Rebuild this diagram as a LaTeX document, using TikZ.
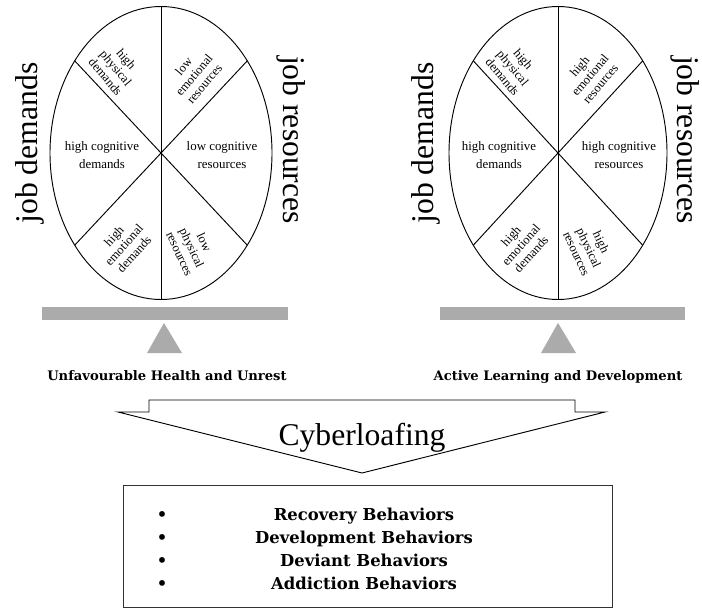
\documentclass[tikz,border=0pt]{standalone}
\usepackage{fontspec}
\setmainfont{Liberation Serif}
\newfontfamily\slabfont{DejaVu Serif}
\usepackage{tikz}

\begin{document}
\begin{tikzpicture}[x=0.03cm, y=-0.03cm,
  wedge/.style={align=center, inner sep=0pt, font=\fontsize{10.7}{11.6}\selectfont},
  sector/.style={align=center, inner sep=0pt, font=\fontsize{11}{15}\selectfont},
  side/.style={anchor=base, inner sep=0pt, font=\fontsize{27}{30}\selectfont},
  plank/.style={fill=black!33, draw=none},
  verdict/.style={anchor=base, inner sep=0pt, font=\slabfont\bfseries\fontsize{11.2}{12}\selectfont},
  outcome/.style={anchor=base, inner sep=0pt, font=\slabfont\bfseries\fontsize{14}{15}\selectfont},
  rim/.style={line width=0.8pt}]
  \useasboundingbox (0,0) rectangle (702,608);
  % left balance
  \draw[rim] (161,153) ellipse [x radius=111, y radius=146.5];
  \draw[rim] (161,6.5) -- (161,299.5);
  \draw[rim] (74.7,60.8) -- (247.3,245.2);
  \draw[rim] (74.7,245.2) -- (247.3,60.8);
  \node (lhpd) at (116,68) [wedge, rotate=-50] {high\\physical\\demands};
  \node (lloer) at (194,75) [wedge, rotate=50] {low\\emotional\\resources};
  \node (lhcd) at (102,155) [sector] {high cognitive\\demands};
  \node (llcr) at (222,155) [sector] {low cognitive\\resources};
  \node (lhed) at (124,245) [wedge, rotate=48] {high\\emotional\\demands};
  \node (llpr) at (192,248) [wedge, rotate=-65] {low\\physical\\resources};
  \node (ldem) at (37,143) [side, rotate=90] {job demands};
  \node (lres) at (283,140) [side, rotate=-90] {job resources};
  \fill[plank] (42,307) rectangle (288,320);
  \fill[plank] (164,323) -- (182,353) -- (147,353) -- cycle;
  \node (lout) at (167,380) [verdict] {Unfavourable Health and Unrest};
  % right balance
  \draw[rim] (558,153) ellipse [x radius=109, y radius=146.5];
  \draw[rim] (558,6.5) -- (558,299.5);
  \draw[rim] (473.3,60.8) -- (642.7,245.2);
  \draw[rim] (473.3,245.2) -- (642.7,60.8);
  \node (rhpd) at (513,68) [wedge, rotate=-50] {high\\physical\\demands};
  \node (rher) at (590,75) [wedge, rotate=50] {high\\emotional\\resources};
  \node (rhcd) at (499,155) [sector] {high cognitive\\demands};
  \node (rhcr) at (619,155) [sector] {high cognitive\\resources};
  \node (rhed) at (521,245) [wedge, rotate=48] {high\\emotional\\demands};
  \node (rhpr) at (589,248) [wedge, rotate=-65] {high\\physical\\resources};
  \node (rdem) at (433,143) [side, rotate=90] {job demands};
  \node (rres) at (677,140) [side, rotate=-90] {job resources};
  \fill[plank] (440,307) rectangle (685,320);
  \fill[plank] (558,323) -- (576,353) -- (541,353) -- cycle;
  \node (rout) at (558,380) [verdict] {Active Learning and Development};
  % arrow and list
  \draw[rim] (149,400) -- (575,400) -- (575,412) -- (605,412) -- (362,473)
    -- (118,412) -- (149,412) -- cycle;
  \node (cyb) at (362,445) [side] {Cyberloafing};
  \draw[rim, draw=black!80] (123,485) rectangle (612,607);
  \node (rec) at (364,520) [outcome] {Recovery Behaviors};
  \node (dev) at (364,543) [outcome] {Development Behaviors};
  \node (dvt) at (364,566) [outcome] {Deviant Behaviors};
  \node (add) at (364,589) [outcome] {Addiction Behaviors};
  \node (b1) at (162,520) [outcome] {•};
  \node (b2) at (162,543) [outcome] {•};
  \node (b3) at (162,566) [outcome] {•};
  \node (b4) at (162,589) [outcome] {•};
\end{tikzpicture}
\end{document}
